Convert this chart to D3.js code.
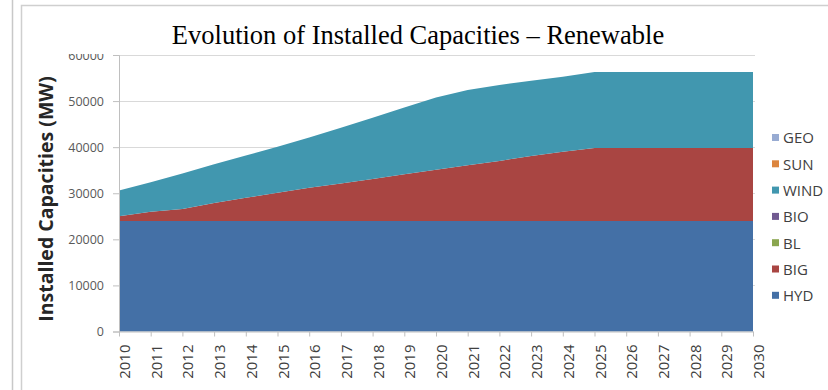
<!DOCTYPE html>
<html>
<head>
<meta charset="utf-8">
<script src="https://cdn.jsdelivr.net/npm/d3@7"></script>
<style>
  html, body { margin: 0; padding: 0; background: #fff; }
  svg { display: block; }
</style>
</head>
<body>
<svg id="chart" width="828" height="390"></svg>
<script>
// Installed renewable capacity (MW) per year and technology
const years = [2010, 2011, 2012, 2013, 2014, 2015, 2016, 2017, 2018, 2019, 2020,
               2021, 2022, 2023, 2024, 2025, 2026, 2027, 2028, 2029, 2030];
const HYD  = [24000, 24000, 24000, 24000, 24000, 24000, 24000, 24000, 24000, 24000, 24000,
              24000, 24000, 24000, 24000, 24000, 24000, 24000, 24000, 24000, 24000];
const BIG  = [1000, 2000, 2600, 3900, 5000, 6100, 7200, 8100, 9100, 10100, 11100,
              12100, 13000, 14100, 15000, 15800, 15800, 15800, 15800, 15800, 15800];
const BL   = [0, 0, 0, 0, 0, 0, 0, 0, 0, 0, 0, 0, 0, 0, 0, 0, 0, 0, 0, 0, 0];
const BIO  = [0, 0, 0, 0, 0, 0, 0, 0, 0, 0, 0, 0, 0, 0, 0, 0, 0, 0, 0, 0, 0];
const WIND = [5600, 6400, 7700, 8400, 9200, 10000, 10900, 12100, 13300, 14500, 15700,
              16300, 16500, 16300, 16300, 16500, 16500, 16500, 16500, 16500, 16500];
const SUN  = [0, 0, 0, 0, 0, 0, 0, 0, 0, 0, 0, 0, 0, 0, 0, 0, 0, 0, 0, 0, 0];
const GEO  = [0, 0, 0, 0, 0, 0, 0, 0, 0, 0, 0, 0, 0, 0, 0, 0, 0, 0, 0, 0, 0];

const stackKeys  = ["HYD", "BIG", "BL", "BIO", "WIND", "SUN", "GEO"];   // bottom to top
const legendKeys = ["GEO", "SUN", "WIND", "BIO", "BL", "BIG", "HYD"];   // top to bottom
const yTicks = [0, 10000, 20000, 30000, 40000, 50000, 60000];

const colors = {
  HYD: "#4470a6", BIG: "#a94542", BL: "#8aa64f", BIO: "#715a91",
  WIND: "#4197af", SUN: "#dc853e", GEO: "#98abd2"
};

const seriesByKey = { HYD, BIG, BL, BIO, WIND, SUN, GEO };
const table = years.map((yr, i) => {
  const row = { year: yr };
  stackKeys.forEach(k => { row[k] = seriesByKey[k][i]; });
  return row;
});

const svg = d3.select("#chart");

// outer frames
svg.append("line").attr("x1", 12.5).attr("x2", 12.5).attr("y1", 0).attr("y2", 390)
  .attr("stroke", "#c8c8c8").attr("stroke-width", 1.5);
svg.append("rect").attr("x", 21.5).attr("y", 5.5).attr("width", 830).attr("height", 400)
  .attr("fill", "none").attr("stroke", "#cfcfcf").attr("stroke-width", 1.5);

const x = d3.scaleLinear().domain([2010, 2030]).range([119, 753]);
const y = d3.scaleLinear().domain([0, 60000]).range([331.5, 55]);

// gridlines
svg.append("g").selectAll("line").data(yTicks.filter(d => d > 0)).join("line")
  .attr("x1", x(2010)).attr("x2", x(2030) + 2)
  .attr("y1", d => Math.round(y(d)) + 0.5).attr("y2", d => Math.round(y(d)) + 0.5)
  .attr("stroke", "#d9d9d9").attr("stroke-width", 1);

// stacked areas
const stack = d3.stack().keys(stackKeys);
const layers = stack(table);
const area = d3.area()
  .x(d => x(d.data.year))
  .y0(d => y(d[0]))
  .y1(d => y(d[1]));

svg.append("g").selectAll("path").data(layers).join("path")
  .attr("d", area)
  .attr("fill", d => colors[d.key]);

// y axis (top label partly hidden under the title band)
const clip = svg.append("defs").append("clipPath").attr("id", "yclip");
clip.append("rect").attr("x", -120).attr("y", 54).attr("width", 130).attr("height", 340);

const yAxis = svg.append("g")
  .attr("transform", `translate(${x(2010)},0)`)
  .attr("clip-path", "url(#yclip)")
  .call(d3.axisLeft(y).tickValues(yTicks).tickFormat(d3.format("d")).tickSize(6).tickPadding(9));
yAxis.select(".domain").attr("stroke", "#bfbfbf");
yAxis.selectAll(".tick line").attr("stroke", "#bfbfbf");
yAxis.selectAll(".tick text")
  .attr("font-family", "'Open Sans', sans-serif").attr("font-size", 12.5)
  .attr("fill", "#595959");

// x axis
const xAxis = svg.append("g")
  .attr("transform", `translate(0,${y(0)})`)
  .call(d3.axisBottom(x).tickValues(years).tickFormat(d3.format("d")).tickSize(5).tickSizeOuter(0).tickPadding(0));
xAxis.select(".domain").attr("stroke", "#bfbfbf");
xAxis.selectAll(".tick line").attr("stroke", "#bfbfbf");
xAxis.selectAll(".tick text")
  .attr("font-family", "'Open Sans', sans-serif").attr("font-size", 15)
  .attr("fill", "#404040")
  .attr("text-anchor", "end")
  .attr("dy", null)
  .attr("transform", "translate(5.5,13) rotate(-90)");

// axis title
svg.append("text")
  .attr("transform", "translate(53,199) rotate(-90)")
  .attr("text-anchor", "middle")
  .attr("font-family", "'Open Sans', sans-serif").attr("font-weight", 700)
  .attr("font-size", 19.5).attr("fill", "#262626")
  .text("Installed Capacities (MW)");

// title
svg.append("text")
  .attr("x", 418).attr("y", 44)
  .attr("text-anchor", "middle")
  .attr("font-family", "'Liberation Serif', 'Times New Roman', serif")
  .attr("font-size", 26.5).attr("fill", "#000")
  .text("Evolution of Installed Capacities \u2013 Renewable");

// legend
const legend = svg.append("g").selectAll("g").data(legendKeys).join("g")
  .attr("transform", (d, i) => `translate(772,${138 + i * 26.3})`);
legend.append("rect").attr("x", 0).attr("y", -4).attr("width", 7).attr("height", 7)
  .attr("fill", d => colors[d]);
legend.append("text").attr("x", 11).attr("y", 0).attr("dy", "0.36em")
  .attr("font-family", "'Open Sans', sans-serif").attr("font-size", 15)
  .attr("fill", "#404040")
  .text(d => d);
</script>
</body>
</html>
